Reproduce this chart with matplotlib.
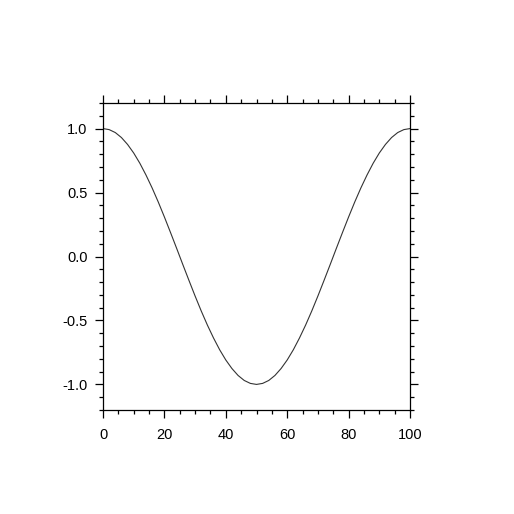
import matplotlib
matplotlib.use("Agg")
import matplotlib.pyplot as plt
from matplotlib.ticker import MultipleLocator

# values
x = [0, 2, 4, 6, 8, 10, 12, 14, 16, 18, 20, 22, 24, 26, 28, 30, 32, 34, 36, 38, 40,
     42, 44, 46, 48, 50, 52, 54, 56, 58, 60, 62, 64, 66, 68, 70, 72, 74, 76, 78, 80,
     82, 84, 86, 88, 90, 92, 94, 96, 98, 100]
y = [1.000, 0.992, 0.969, 0.930, 0.876, 0.809, 0.729, 0.637, 0.536, 0.426, 0.309,
     0.187, 0.063, -0.063, -0.187, -0.309, -0.426, -0.536, -0.637, -0.729, -0.809,
     -0.876, -0.930, -0.969, -0.992, -1.000, -0.992, -0.969, -0.930, -0.876, -0.809,
     -0.729, -0.637, -0.536, -0.426, -0.309, -0.187, -0.063, 0.063, 0.187, 0.309,
     0.426, 0.536, 0.637, 0.729, 0.809, 0.876, 0.930, 0.969, 0.992, 1.000]

plt.rcParams['font.family'] = ['Liberation Sans', 'DejaVu Sans']

fig = plt.figure(figsize=(5.14, 5.14), dpi=100)
ax = fig.add_axes([103/514, 1-410/514, 307/514, 307/514])

ax.plot(x, y, color='#333333', lw=0.8)

ax.set_xlim(0, 100)
ax.set_ylim(-1.2, 1.2)
ax.xaxis.set_major_locator(MultipleLocator(20))
ax.xaxis.set_minor_locator(MultipleLocator(5))
ax.yaxis.set_major_locator(MultipleLocator(0.5))
ax.yaxis.set_minor_locator(MultipleLocator(0.1))
ax.yaxis.set_major_formatter(plt.FuncFormatter(lambda v, p: '%.1f' % v))

ax.tick_params(which='both', direction='out', top=True, right=True, width=0.9, color='black')
ax.tick_params(which='major', length=6)
ax.tick_params(which='minor', length=3)
ax.tick_params(axis='both', labelsize=10.5)
ax.tick_params(axis='y', pad=5)
ax.tick_params(axis='x', pad=7)
for s in ax.spines.values():
    s.set_linewidth(0.9)

fig.savefig('out.png', dpi=100)
